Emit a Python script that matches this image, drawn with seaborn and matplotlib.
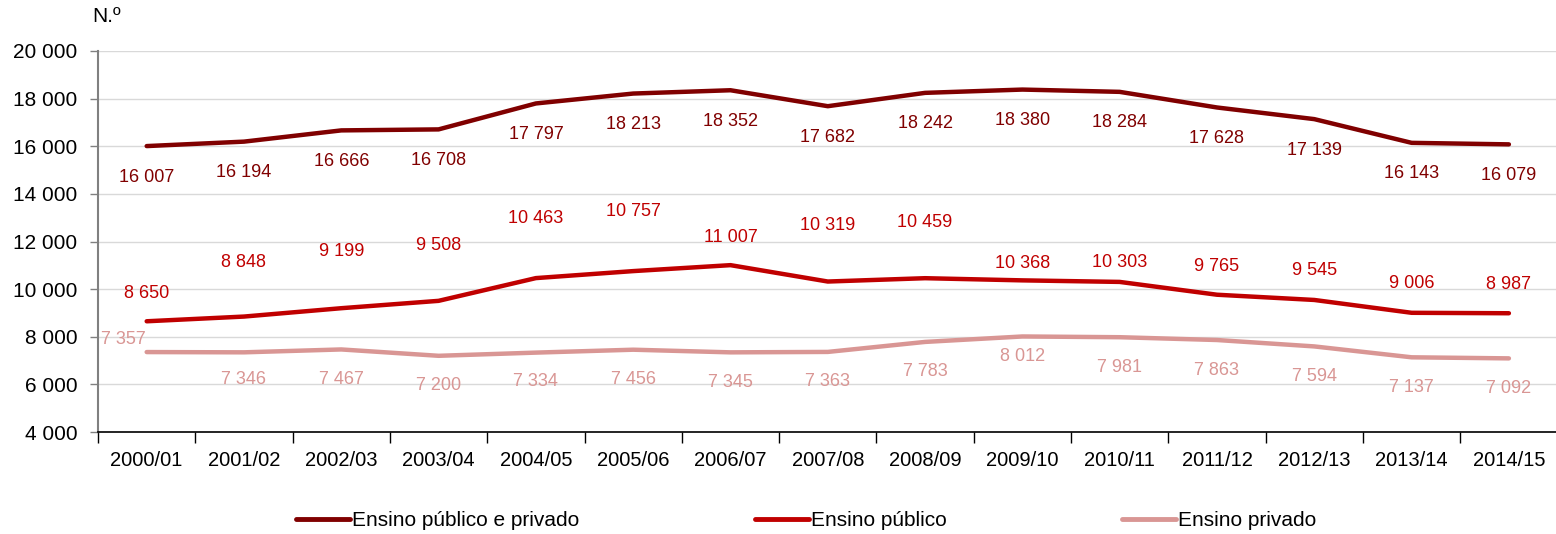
import numpy as np
import pandas as pd
import seaborn as sns
import matplotlib.pyplot as plt

# data
anos = ['2000/01', '2001/02', '2002/03', '2003/04', '2004/05', '2005/06', '2006/07', '2007/08',
        '2008/09', '2009/10', '2010/11', '2011/12', '2012/13', '2013/14', '2014/15']
total = [16007, 16194, 16666, 16708, 17797, 18213, 18352, 17682, 18242, 18380, 18284, 17628, 17139, 16143, 16079]
publico = [8650, 8848, 9199, 9508, 10463, 10757, 11007, 10319, 10459, 10368, 10303, 9765, 9545, 9006, 8987]
privado = [7357, 7346, 7467, 7200, 7334, 7456, 7345, 7363, 7783, 8012, 7981, 7863, 7594, 7137, 7092]
series = ['Ensino público e privado', 'Ensino público', 'Ensino privado']
cores = ['#800000', '#C00000', '#D99694']

# label offsets in pixels (dy, negative = below the line)
off_total = [-31] * 15
off_publico = [28, 54, 57, 55, 60, 60, 28, 56, 56, 17, 19, 28, 29, 29, 29]
off_privado = [13, -27, -30, -30, -29, -30, -30, -30, -30, -20, -30, -30, -30, -30, -30]

df = pd.DataFrame({
    'ano': anos * 3,
    'x': list(range(15)) * 3,
    'valor': total + publico + privado,
    'serie': [series[0]] * 15 + [series[1]] * 15 + [series[2]] * 15,
})

sns.set_style('white')
plt.rcParams['font.family'] = ['Liberation Sans', 'DejaVu Sans']
plt.rcParams['text.color'] = 'black'
plt.rcParams['xtick.color'] = 'black'
plt.rcParams['ytick.color'] = 'black'

fig = plt.figure(figsize=(15.56, 5.34), dpi=100)
ax = fig.add_axes([0.063, 0.191, 0.938, 0.7135])

sns.lineplot(data=df, x='x', y='valor', hue='serie', hue_order=series,
             palette=cores, linewidth=3.2, ax=ax, legend=False,
             solid_capstyle='round')

def fmt(v):
    return f'{v:,}'.replace(',', ' ')

for vals, offs, cor in [(total, off_total, cores[0]), (publico, off_publico, cores[1]),
                        (privado, off_privado, cores[2])]:
    for i, (v, dy) in enumerate(zip(vals, offs)):
        dx = -23 if (vals is privado and i == 0) else 0
        ax.annotate(fmt(v), (i, v), xytext=(dx, dy), textcoords='offset pixels',
                    ha='center', va='center', fontsize=13, color=cor)

ax.set_xlim(-0.5, 14.5)
ax.set_ylim(4000, 20000)
ax.set_yticks(range(4000, 20001, 2000))
ax.set_yticklabels([fmt(v) for v in range(4000, 20001, 2000)], fontsize=15)
ax.set_xticks(np.arange(-0.5, 15, 1))
ax.set_xticklabels([])
ax.set_xticks(range(15), minor=True)
ax.set_xticklabels(anos, minor=True, fontsize=14.5)
ax.tick_params(axis='x', which='major', length=8, width=1, color='black', direction='out', bottom=True)
ax.tick_params(axis='x', which='minor', length=0, pad=14)
ax.tick_params(axis='y', length=6, width=1, color='#808080', direction='out', left=True, pad=9)
ax.yaxis.grid(True, color='#D9D9D9', linewidth=1)
ax.set_axisbelow(True)
ax.set_xlabel('')
ax.set_ylabel('')
for s in ['top', 'right']:
    ax.spines[s].set_visible(False)
ax.spines['left'].set_color('#808080')
ax.spines['bottom'].set_color('black')
ax.spines['left'].set_linewidth(1.5)
ax.spines['bottom'].set_linewidth(1.2)

fig.text(0.0595, 0.97, 'N.º', fontsize=15, ha='left', va='center')

handles = [plt.Line2D([], [], color=c, linewidth=3.5, solid_capstyle='round') for c in cores]
fig.legend(handles, series, loc='center', bbox_to_anchor=(0.518, 0.025), ncol=3,
           frameon=False, fontsize=15, handlelength=2.6, handletextpad=0.1,
           columnspacing=8.4)

fig.savefig('out.png', dpi=100)
